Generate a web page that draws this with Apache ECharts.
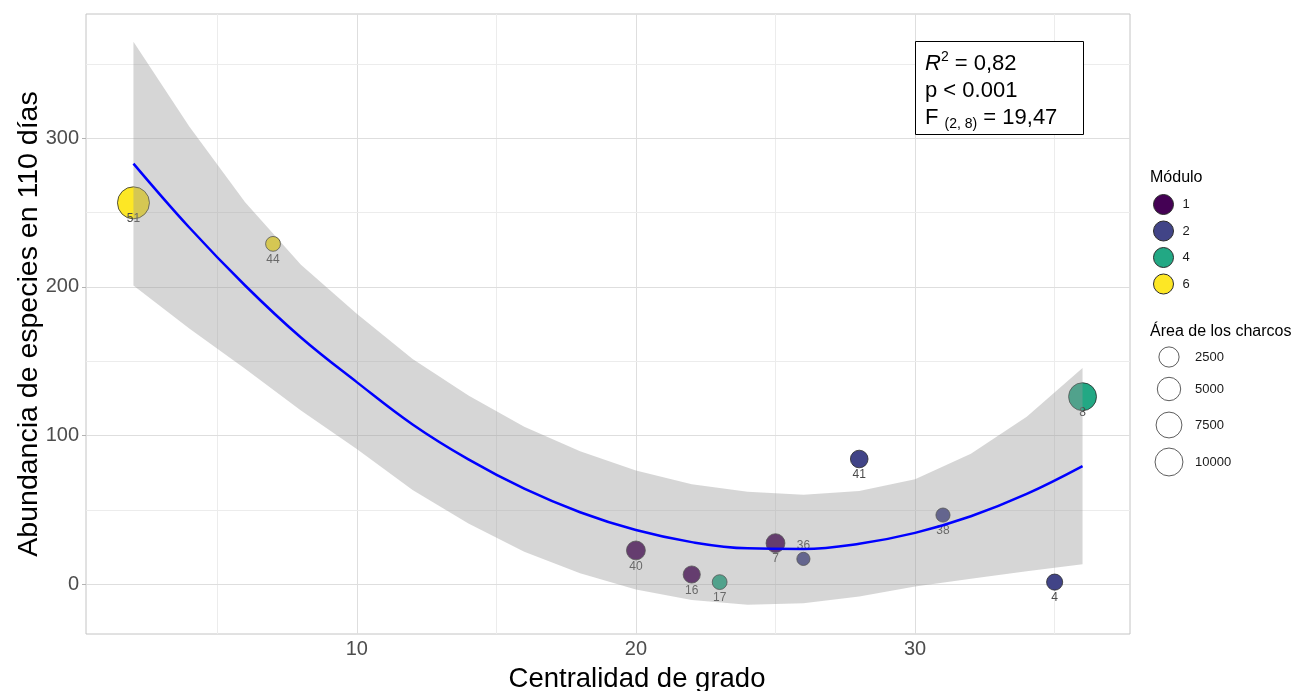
<!DOCTYPE html>
<html>
<head>
<meta charset="utf-8">
<script src="https://cdn.jsdelivr.net/npm/echarts@6/dist/echarts.min.js"></script>
<style>html,body{margin:0;padding:0;background:#fff;}#c{width:1298px;height:691px;}</style>
</head>
<body>
<div id="c"></div>
<script>
// ---- data ----
const pondIds     = ['51', '44', '40', '16', '17', '7', '36', '41', '38', '4', '8'];
const centrality  = [2, 7, 20, 22, 23, 25, 26, 28, 31, 35, 36];
const abundance   = [256.6, 229.0, 22.8, 6.6, 1.5, 27.7, 17.1, 84.3, 46.6, 1.5, 126.2];
const pondArea    = [16000, 230, 1700, 900, 230, 1700, 20, 1100, 110, 550, 10000];
const modulo      = [6, 6, 1, 1, 4, 1, 2, 2, 2, 2, 4];

const moduleLevels = [1, 2, 4, 6];
const sizeBreaks   = [2500, 5000, 7500, 10000];

// quadratic fit and 95% CI
const ciX     = [2, 4, 6, 8, 10, 12, 14, 16, 18, 20, 22, 24, 26, 28, 30, 32, 34, 36];
const fitY    = [283, 240, 201, 166, 136, 107.5, 84, 64.3, 48.5, 36.5, 28.4, 24.2, 23.8, 27.3, 34.6, 45.8, 60.8, 79.5];
const ciUpper = [365, 308, 257, 215, 182, 151.5, 127, 106, 89.5, 76.5, 67.4, 62.2, 60.3, 62.8, 70.6, 87.8, 112.8, 145.5];
const ciLower = [201, 172, 145, 117, 91, 63.5, 41, 22, 7.5, -3.5, -10.6, -13.8, -12.7, -8.2, -1.4, 3.8, 8.8, 13.5];

const xTicks = [10, 20, 30];
const xMinor = [5, 15, 25, 35];
const yTicks = [0, 100, 200, 300];
const yMinor = [50, 150, 250, 350];

// ---- styling ----
const FONT = 'Liberation Sans, Arial, sans-serif';
const moduleColors = {1: '#440154', 2: '#414487', 4: '#22A884', 6: '#FDE725'};
function sizeFor(area) { return 12.5 + 19.5 * Math.sqrt(area / 16000); }

const chart = echarts.init(document.getElementById('c'), null, {renderer: 'canvas'});

const gridLines = [];
xTicks.forEach(v => gridLines.push({xAxis: v, lineStyle: {color: '#dedede', width: 1, type: 'solid'}}));
xMinor.forEach(v => gridLines.push({xAxis: v, lineStyle: {color: '#ececec', width: 1, type: 'solid'}}));
yTicks.forEach(v => gridLines.push({yAxis: v, lineStyle: {color: '#dedede', width: 1, type: 'solid'}}));
yMinor.forEach(v => gridLines.push({yAxis: v, lineStyle: {color: '#ececec', width: 1, type: 'solid'}}));

const scatterSeries = moduleLevels.map(m => {
  const data = [];
  pondIds.forEach((id, i) => {
    if (modulo[i] !== m) return;
    data.push({
      name: id,
      value: [centrality[i], abundance[i]],
      symbolSize: sizeFor(pondArea[i]),
      label: {offset: id === '36' ? [0, -13] : [0, 16]}
    });
  });
  return {
    name: String(m),
    type: 'scatter',
    z: 2,
    symbol: 'circle',
    data: data,
    itemStyle: {color: moduleColors[m], opacity: 1, borderColor: '#2b2b2b', borderWidth: 0.8},
    label: {
      show: true, position: 'inside', formatter: '{b}',
      color: '#4a4a4a', fontSize: 12, fontFamily: FONT
    },
    emphasis: {disabled: true}
  };
});

const sizeLegendY = [357, 389, 425, 462];
const graphics = [
  {type: 'rect', left: 915, top: 41, z: 100,
   shape: {width: 168, height: 93},
   style: {fill: '#ffffff', stroke: '#000000', lineWidth: 1}},
  {type: 'text', left: 925, top: 50, z: 101,
   style: {
     text: '{it|R}{sup|2} = 0,82\np < 0.001\nF {sub|(2, 8)} = 19,47',
     fontSize: 22, fontFamily: FONT, fill: '#000', lineHeight: 27,
     rich: {
       it: {fontStyle: 'italic', fontSize: 22, fontFamily: FONT, lineHeight: 27},
       sup: {fontSize: 14, fontFamily: FONT, verticalAlign: 'top', lineHeight: 27},
       sub: {fontSize: 14, fontFamily: FONT, verticalAlign: 'bottom', lineHeight: 27}
     }
   }},
  {type: 'text', left: 1150, top: 170, z: 100,
   style: {text: 'Módulo', fontSize: 16, fontFamily: FONT, fill: '#000'}},
  {type: 'text', left: 1150, top: 324, z: 100,
   style: {text: 'Área de los charcos', fontSize: 16, fontFamily: FONT, fill: '#000'}}
];
sizeBreaks.forEach((b, i) => {
  const r = sizeFor(b) / 2;
  graphics.push({type: 'circle', z: 100, shape: {cx: 1169, cy: sizeLegendY[i], r: r},
                 style: {fill: '#ffffff', stroke: '#333', lineWidth: 0.8}});
  graphics.push({type: 'text', z: 100, x: 1195, y: sizeLegendY[i],
                 style: {text: String(b), fontSize: 13, fontFamily: FONT, fill: '#1a1a1a',
                         verticalAlign: 'middle', align: 'left'}});
});

const option = {
  animation: false,
  backgroundColor: '#ffffff',
  textStyle: {fontFamily: FONT},
  grid: {left: 86, right: 168, top: 14, bottom: 57, show: true, outerBoundsMode: 'none',
         containLabel: false,
         borderColor: '#c4c4c4', borderWidth: 1, backgroundColor: 'transparent'},
  xAxis: {
    type: 'value', min: 0.3, max: 37.7,
    name: 'Centralidad de grado', nameLocation: 'middle', nameGap: 31,
    nameMoveOverlap: false,
    nameTextStyle: {fontSize: 27.5, color: '#000', fontFamily: FONT, padding: [0, 0, 0, 58]},
    axisLine: {show: false},
    splitLine: {show: false},
    axisTick: {show: true, length: 4, customValues: xTicks, lineStyle: {color: '#b3b3b3'}},
    axisLabel: {customValues: xTicks, fontSize: 20, color: '#4d4d4d', margin: 5, fontFamily: FONT}
  },
  yAxis: {
    type: 'value', min: -33.4, max: 383.6,
    name: 'Abundancia de especies en 110 días', nameLocation: 'middle', nameGap: 42,
    nameMoveOverlap: false,
    nameTextStyle: {fontSize: 28.5, color: '#000', fontFamily: FONT},
    axisLine: {show: false},
    splitLine: {show: false},
    axisTick: {show: true, length: 4, customValues: yTicks, lineStyle: {color: '#b3b3b3'}},
    axisLabel: {customValues: yTicks, fontSize: 20, color: '#4d4d4d', margin: 7, fontFamily: FONT}
  },
  legend: {
    data: moduleLevels.map(m => ({
      name: String(m),
      itemStyle: {color: moduleColors[m], opacity: 1, borderColor: '#2b2b2b', borderWidth: 1}
    })),
    orient: 'vertical', left: 1153, top: 194,
    itemWidth: 20, itemHeight: 20, itemGap: 5.5, padding: 0,
    icon: 'circle', selectedMode: false,
    textStyle: {fontSize: 13, color: '#1a1a1a', fontFamily: FONT, padding: [0, 0, 0, 4]}
  },
  graphic: graphics,
  series: [
    {
      name: 'ci', type: 'custom', z: 3, silent: true, clip: true,
      data: [[ciX[0], ciLower[0]]],
      renderItem: function (params, api) {
        const pts = [];
        for (let i = 0; i < ciX.length; i++) pts.push(api.coord([ciX[i], ciUpper[i]]));
        for (let i = ciX.length - 1; i >= 0; i--) pts.push(api.coord([ciX[i], ciLower[i]]));
        return {type: 'polygon', shape: {points: pts}, style: {fill: 'rgba(153,153,153,0.4)'}};
      }
    },
    {
      name: 'fit', type: 'line', z: 4, silent: true,
      data: ciX.map((x, i) => [x, fitY[i]]),
      showSymbol: false, smooth: 0.4,
      lineStyle: {color: '#0000ff', width: 2.5},
      markLine: {silent: true, z: 1, symbol: 'none', label: {show: false},
                 animation: false, data: gridLines}
    }
  ].concat(scatterSeries)
};
chart.setOption(option);
</script>
</body>
</html>
